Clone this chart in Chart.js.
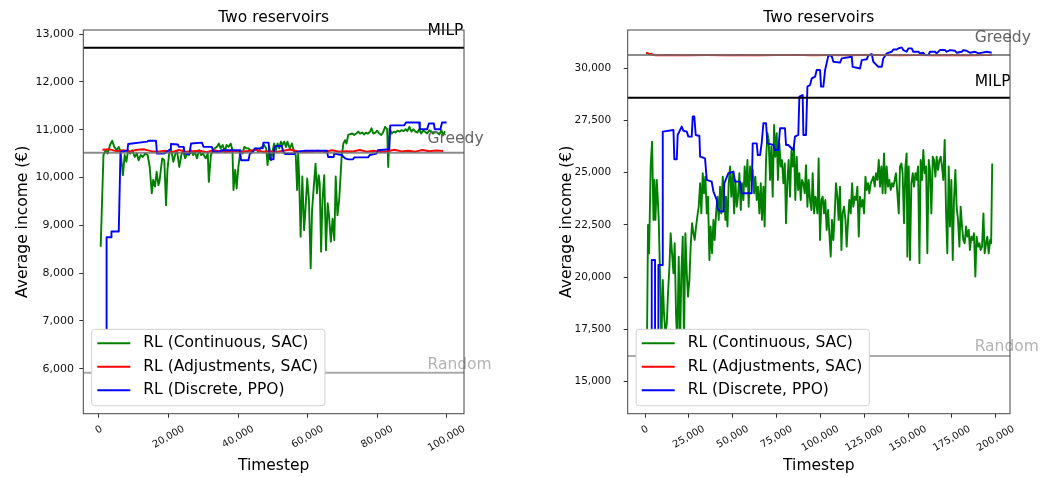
<!DOCTYPE html>
<html>
<head>
<meta charset="utf-8">
<script src="https://cdn.jsdelivr.net/npm/chart.js@4.4.1/dist/chart.umd.min.js"></script>
<style>
  html, body { margin: 0; padding: 0; background: #fff; overflow: hidden; }
  .panel { position: absolute; top: 0; height: 477px; }
  #left { left: 0; width: 530px; }
  #right { left: 544px; width: 515px; }
</style>
</head>
<body>
<div class="panel" id="left"><canvas id="chartLeft"></canvas></div>
<div class="panel" id="right"><canvas id="chartRight"></canvas></div>
<script>
// ---- left panel : 100k timesteps ----
const leftXRange = [-4500, 105000];
const leftYRange = [5060, 13085];
const leftXTicks = [0, 20000, 40000, 60000, 80000, 100000];
const leftYTicks = [6000, 7000, 8000, 9000, 10000, 11000, 12000, 13000];

const leftGreenX = [500,1300,1950,2500,3200,3800,4400,5100,5700,6200,6900,7400,7900,8400,9000,9600,10300,10900,11400,12000,
  12600,13300,14000,14600,15200,15600,16100,16600,17100,17400,17800,18200,18800,19300,19700,20200,20800,21400,22000,22500,
  23100,23700,24200,24800,25400,25900,26500,27100,27600,28200,28800,29400,29900,30700,31300,31600,32200,32800,33300,33900,
  34500,35000,35600,36200,36700,37300,37900,38400,38700,39200,39600,40100,40700,41300,41800,42400,43000,43500,44100,44700,
  45200,45800,46400,46900,47500,48100,48500,49000,49500,50000,50400,50900,51400,51900,52300,52800,53300,53800,54200,54900,
  55500,56000,56600,57000,57300,57600,58000,58500,59000,59400,59900,60400,60900,61300,61800,62300,62700,63200,63500,63900,
  64300,64800,65300,65800,66200,66700,67200,67700,68100,68600,69100,69400,69800,70300,70800,71200,71700,72300,72900,73400,
  74000,74600,75100,75700,76300,76800,77400,78000,78400,78900,79500,80000,80600,81200,81700,82300,82900,83200,83600,84200,
  84800,85300,85900,86500,87000,87600,88200,88700,89300,89900,90400,91000,91600,92100,92700,93300,93900,94400,95000,95600,
  96100,96700,97300,97900,98500,99000,99500];
const leftGreenY = [8550,10470,10570,10500,10680,10770,10640,10570,10640,10540,10050,10470,10330,10570,10500,10570,10430,10500,10360,10470,
  10430,10500,10470,10220,9670,9950,9810,10120,9840,9910,10160,10400,10360,9420,10160,10500,10570,10330,10500,10540,
  10220,10470,10570,10400,10500,10470,10570,10470,10540,10400,10570,10470,10500,10400,10500,9910,10470,10570,10610,10640,
  10710,10610,10680,10540,10680,10640,10710,10570,9740,10160,9770,10220,10570,10500,10640,10610,10610,10570,10540,10570,
  10610,10540,10610,10640,10680,10610,10260,10640,10360,10570,10710,10570,10710,10610,10750,10680,10750,10640,10750,10610,
  10710,10570,10470,9740,10500,9950,8760,10020,8900,9320,9980,9530,8100,9320,9810,10290,9670,10050,9880,8450,
  9530,10050,8480,9460,9180,8660,9140,8690,10020,9210,9530,9910,10430,10710,10780,10710,10890,10910,10920,10890,
  10920,10960,10920,10940,10900,10940,10920,10960,11030,10920,10940,10980,10920,10890,10940,11060,11010,10220,11030,10920,
  10960,10940,10980,10960,10990,10970,11010,10970,11060,10960,11010,10960,10940,11010,10920,10980,10950,10920,10990,10960,
  10920,10950,10940,10900,10990,10880,10970];

const leftRedX = [1000,3000,5000,7000,9000,11000,13000,15000,17000,19000,21000,23000,25000,27000,29000,31000,33000,35000,37000,39000,
  41000,43000,45000,47000,49000,51000,53000,55000,57000,59000,61000,63000,65000,67000,69000,71000,73000,75000,77000,79000,
  81000,83000,85000,87000,89000,91000,93000,95000,97000,99000];
const leftRedY = [10580,10590,10550,10570,10545,10580,10590,10550,10540,10560,10530,10575,10540,10550,10560,10530,10570,10545,10535,10560,
  10540,10555,10580,10540,10550,10535,10560,10585,10550,10540,10545,10560,10535,10570,10540,10550,10545,10575,10540,10560,
  10535,10550,10580,10545,10560,10540,10575,10550,10565,10555];

const leftBlueX = [2200,2200,3600,3600,5700,6200,8200,8400,13900,14200,16400,16700,18800,20500,20700,22700,23000,24400,24600,26000,
  26500,29600,30100,32500,32900,34800,35200,40500,40900,43000,43400,44300,44800,47100,47300,48800,49200,50200,50400,50900,
  52600,53000,53600,56100,56400,57100,59400,65600,65900,67500,67700,69800,70800,71700,73100,73400,77400,77900,79800,80200,
  83500,83800,87800,88300,92100,92300,94400,94900,96300,96600,98200,98700,100000];
const leftBlueY = [5600,8750,8750,8870,8870,10540,10560,10700,10750,10770,10770,10500,10500,10590,10700,10690,10640,10640,10500,10490,
  10710,10730,10640,10640,10540,10540,10570,10570,10360,10360,10500,10540,10610,10610,10730,10730,10380,10380,10610,10660,
  10660,10540,10490,10490,10520,10540,10560,10560,10430,10430,10500,10470,10400,10380,10380,10420,10420,10470,10500,10570,
  10590,11090,11090,11150,11150,11010,11010,11130,11130,11010,11010,11150,11150];

const leftRefValues = [12713, 10519, 5916];   // MILP, Greedy, Random
const leftLabelX = 94500;

// ---- right panel : 200k timesteps ----
const rightXRange = [-9900, 208150];
const rightYRange = [13470, 31820];
const rightXTicks = [0, 25000, 50000, 75000, 100000, 125000, 150000, 175000, 200000];
const rightYTicks = [15000, 17500, 20000, 22500, 25000, 27500, 30000];

const rightGreenX = [1100,1700,2300,3200,4000,4800,5300,5900,6700,7200,7800,8600,9300,10100,10800,11600,12400,13100,13900,14600,
  15400,16200,16900,17700,18400,19200,20000,20700,21500,22200,23000,23800,24500,25300,26000,26800,27600,28300,29100,29800,
  30600,31400,32100,32900,33600,34400,35200,35900,36700,37400,38200,39000,39700,40500,41300,42000,42800,43500,44300,45100,
  45800,46200,47000,47700,48500,49200,50000,50800,51500,52300,53000,53800,54600,55300,56100,56800,57600,58400,59100,59900,
  60600,61400,62200,62900,63700,64400,65200,66000,66700,67500,68200,69000,69800,70500,71300,72000,72800,73600,74300,75100,
  75800,76600,77400,78100,78900,79700,80400,81200,81900,82700,83500,84200,85000,85700,86500,87300,88000,88800,89500,90300,
  91100,91800,92600,93300,94100,94900,95600,96400,97100,97500,98300,99000,99800,100600,101300,102100,102800,103600,104400,105100,
  105900,106600,107400,108200,108900,109700,110400,111200,112000,112700,113500,114300,115000,115800,116500,117300,118100,118800,119600,120300,
  121100,121900,122600,123400,124100,124900,125700,126400,127200,127900,128700,129500,130200,131000,131700,132500,133300,134000,134800,135500,
  136300,137100,137800,138600,139300,140100,140900,141600,142400,143100,143900,144700,145400,146200,146900,147700,148500,149200,149600,150400,
  151100,151900,152700,153400,154200,154900,155700,156500,157200,158000,158700,159500,160300,161000,161800,162500,163300,164100,164800,165600,
  166300,167100,167900,168600,169400,170100,170900,171700,172400,173200,173900,174700,175500,176200,177000,177700,178500,179300,180000,180800,
  181500,182300,183100,183800,184600,185300,186100,186900,187600,188400,189100,189900,190700,191400,192200,193000,193700,194500,195200,196000,
  196800,197400,198000];
const rightGreenY = [16800,22500,21140,25290,26480,22740,24650,22740,24650,23850,22740,19870,16800,19870,18280,17320,17800,19230,20510,22100,
  21140,20190,21620,18120,16800,20980,16800,20190,21940,16800,22100,20190,19070,19870,21460,22580,22100,21780,22420,22900,
  23370,24490,23050,24970,24010,24810,23050,23850,20820,22420,21140,22740,21780,23050,23850,22740,24330,23050,24810,24010,
  22740,23850,22420,24490,25290,23850,24970,23050,24650,23370,23850,24970,23210,24490,23690,25290,24330,25600,23370,25290,
  24650,25130,24010,24810,23690,24330,23050,24490,22740,24330,22420,25600,26880,26560,24650,26240,23850,27280,25760,26880,
  24650,26400,25290,25600,24490,25440,22580,24650,25600,23850,26080,25290,26240,23690,25760,24170,24970,23690,24650,24490,
  24010,25360,23370,24650,23690,23210,24970,23050,23850,23690,23050,25680,21780,23690,23850,23050,23690,22260,23210,22100,
  20980,22740,21780,23050,24490,23850,22740,24330,21300,23050,23370,22740,21460,22740,23690,23050,24490,23370,23850,23690,
  24330,21940,23850,23370,23690,23050,24810,24170,24490,24010,24490,24650,24810,24330,24970,24650,25600,24330,25290,24010,
  25920,24010,25290,24330,24650,24170,24490,24330,24650,24970,24010,23050,25290,25440,24970,22580,25290,25920,20980,25290,
  20820,24490,24970,24330,24970,24650,25290,20670,25600,24650,26080,24970,25290,21140,25600,25130,23050,25760,25600,24810,
  25760,25130,25600,25760,25290,24650,26560,23050,21140,25290,22420,24650,20820,23690,25130,23370,22740,21460,23370,22420,
  21780,21620,22420,21940,22260,21300,21940,21780,22100,20030,21940,21460,21620,21300,21460,23050,21140,21620,21940,21140,
  21780,21620,25440];

const rightRedX = [500,1500,2500,3500,4500,6000,15000,25000,35000,45000,55000,65000,75000,85000,95000,105000,115000,125000,135000,145000,
  155000,165000,175000,185000,195000,198000];
const rightRedY = [30700,30720,30660,30690,30630,30610,30625,30615,30620,30610,30625,30615,30620,30630,30615,30620,30610,30625,30620,30615,
  30620,30610,30625,30615,30620,30620];

const rightBlueX = [3800,3800,5700,5700,7600,7600,10100,10100,16200,16700,18100,18600,20900,21900,23800,24700,26600,27200,28100,28900,
  31000,31400,34200,35200,38000,39000,40900,41300,42800,44700,45200,47500,50400,51300,54200,55100,60800,61400,63700,64300,
  65600,66500,67500,69000,69800,73200,74100,76000,77000,79800,80400,81700,84600,85500,87400,88000,89900,90300,91800,92600,
  94100,95100,97000,97900,99800,100400,101700,102700,104600,106500,107400,111200,112200,117900,118400,122600,123600,126400,127400,129300,
  130200,133100,135000,135900,137800,140700,141600,143500,144500,146400,147300,149200,150200,152100,153000,155900,156800,158700,159700,161600,
  162500,165400,166300,168200,171100,172000,173900,176800,177700,180600,181500,183400,185300,188200,190100,193000,194900,197700];
const rightBlueY = [15500,20820,20820,15500,15500,20580,20580,26960,27040,25640,25640,26800,27200,27000,26960,26720,26720,27680,27680,26800,
  26750,25760,25680,24650,24570,24090,23690,23290,23140,23140,24490,24970,25050,24570,24570,24010,24010,26400,26400,25840,
  25840,26400,27360,27360,26400,26320,26080,26080,27120,27120,26320,26320,26080,26720,26800,28630,28710,26800,26800,29110,
  29190,29510,29590,29910,29910,29110,29110,29910,30620,30570,30300,30260,30460,30540,30060,29980,30380,30420,30620,30670,
  30300,30060,30060,30460,30700,30780,30890,30890,30940,30990,30860,30780,30940,30940,30780,30780,30700,30730,30620,30620,
  30780,30780,30700,30860,30860,30780,30860,30830,30730,30780,30860,30830,30730,30780,30700,30750,30780,30730];

const rightRefValues = [28580, 30621, 16229];  // MILP, Greedy, Random
const rightLabelX = 188000;

const seriesNames = ['RL (Continuous, SAC)', 'RL (Adjustments, SAC)', 'RL (Discrete, PPO)'];
const refNames = ['MILP', 'Greedy', 'Random'];

// ---- styling ----
const FAMILY = "'DejaVu Sans', sans-serif";
const seriesColors = ['#008000', '#ff0000', '#0000ff'];
const refLineColors = ['#000000', 'rgba(110,110,110,0.8)', '#aaaaaa'];
const refTextColors = ['#000000', '#666666', '#b3b3b3'];
const fmt = v => v.toLocaleString('en-US');

function toPoints(xs, ys) {
    return xs.map((x, i) => ({ x: x, y: ys[i] }));
}

// MILP / Greedy / Random labels above their lines
const refLabels = {
    id: 'refLabels',
    afterDatasetsDraw(chart, args, opts) {
        const ctx = chart.ctx, sx = chart.scales.x, sy = chart.scales.y;
        ctx.save();
        ctx.font = '15.5px ' + FAMILY;
        ctx.textAlign = 'left';
        ctx.textBaseline = 'middle';
        opts.values.forEach((v, i) => {
            ctx.fillStyle = refTextColors[i];
            ctx.fillText(refNames[i], sx.getPixelForValue(opts.x), sy.getPixelForValue(v * 1.027));
        });
        // frame around the plot
        const a = chart.chartArea;
        ctx.strokeStyle = '#444';
        ctx.lineWidth = 1;
        ctx.strokeRect(a.left, a.top, a.right - a.left, a.bottom - a.top);
        ctx.restore();
    }
};

// rotated x tick labels, centred on their tick
const xTickLabels = {
    id: 'xTickLabels',
    afterDraw(chart) {
        const ctx = chart.ctx, sx = chart.scales.x, a = chart.chartArea;
        const size = 10, h = size * 1.17, ang = Math.PI / 6;
        ctx.save();
        ctx.font = size + 'px ' + FAMILY;
        ctx.fillStyle = '#111';
        ctx.textAlign = 'center';
        ctx.textBaseline = 'middle';
        sx.ticks.forEach(t => {
            const txt = fmt(t.value);
            const w = ctx.measureText(txt).width;
            const cy = a.bottom + 9.5 + (w * Math.sin(ang) + h * Math.cos(ang)) / 2;
            ctx.save();
            ctx.translate(sx.getPixelForValue(t.value), cy);
            ctx.rotate(-ang);
            ctx.fillText(txt, 0, 0);
            ctx.restore();
        });
        ctx.restore();
    }
};

// matplotlib-like legend box in the lower left corner
const boxLegend = {
    id: 'boxLegend',
    afterDraw(chart) {
        const ctx = chart.ctx, a = chart.chartArea;
        const items = chart.data.datasets.filter(d => !d.isRef);
        ctx.save();
        ctx.font = '15.5px ' + FAMILY;
        const textW = Math.max(...items.map(d => ctx.measureText(d.label).width));
        const left = a.left + 8.4, top = a.bottom - 84.4;
        const w = 60 - 8.4 + textW + 7, hgt = 76.4;
        ctx.beginPath();
        ctx.roundRect(left, top, w, hgt, 3);
        ctx.fillStyle = '#fff';
        ctx.fill();
        ctx.strokeStyle = '#d0d0d0';
        ctx.lineWidth = 1;
        ctx.stroke();
        items.forEach((d, i) => {
            const y = a.bottom - 70.4 + i * 23.5;
            ctx.beginPath();
            ctx.moveTo(a.left + 14, y);
            ctx.lineTo(a.left + 47, y);
            ctx.strokeStyle = d.borderColor;
            ctx.lineWidth = 1.9;
            ctx.stroke();
            ctx.fillStyle = '#000';
            ctx.textAlign = 'left';
            ctx.textBaseline = 'middle';
            ctx.fillText(d.label, a.left + 60, y);
        });
        ctx.restore();
    }
};

function buildChart(id, p) {
    const series = [
        { label: seriesNames[0], data: toPoints(p.greenX, p.greenY), borderColor: seriesColors[0], order: 10 },
        { label: seriesNames[1], data: toPoints(p.redX, p.redY), borderColor: seriesColors[1], order: 9 },
        { label: seriesNames[2], data: toPoints(p.blueX, p.blueY), borderColor: seriesColors[2], order: 8 }
    ];
    const refs = p.refs.map((v, i) => ({
        label: refNames[i],
        isRef: true,
        data: [{ x: p.xRange[0], y: v }, { x: p.xRange[1], y: v }],
        borderColor: refLineColors[i],
        order: [1, 2, 3][i]
    }));
    const datasets = series.concat(refs).map(d => Object.assign({
        borderWidth: 1.9, pointRadius: 0, tension: 0, fill: false, borderJoinStyle: 'round'
    }, d));

    return new Chart(document.getElementById(id), {
        type: 'line',
        data: { datasets: datasets },
        plugins: [refLabels, xTickLabels, boxLegend],
        options: {
            responsive: true,
            maintainAspectRatio: false,
            animation: false,
            devicePixelRatio: 1,
            layout: { padding: { left: 0, right: p.padRight, top: 0, bottom: 0 } },
            plugins: {
                legend: { display: false },
                tooltip: { enabled: false },
                title: {
                    display: true, fullSize: false, text: 'Two reservoirs', color: '#000',
                    font: { family: FAMILY, size: 15.5, weight: 'normal' },
                    padding: { top: 8.2, bottom: 3.2 }
                },
                refLabels: { values: p.refs, x: p.labelX }
            },
            scales: {
                x: {
                    type: 'linear', min: p.xRange[0], max: p.xRange[1],
                    afterBuildTicks: s => { s.ticks = p.xTicks.map(v => ({ value: v })); },
                    afterFit: s => { s.height = 63.3; },
                    ticks: { display: false },
                    grid: { drawOnChartArea: false, drawTicks: true, tickLength: 4, color: '#333' },
                    border: { display: false },
                    title: {
                        display: true, text: 'Timestep', color: '#000',
                        font: { family: FAMILY, size: 15.5 }, padding: { top: 0, bottom: 1.7 }
                    }
                },
                y: {
                    type: 'linear', min: p.yRange[0], max: p.yRange[1],
                    afterBuildTicks: s => { s.ticks = p.yTicks.map(v => ({ value: v })); },
                    afterFit: s => { s.width = p.yWidth; },
                    ticks: {
                        color: '#111', font: { family: FAMILY, size: p.yTickSize },
                        padding: p.yTickPad, callback: v => fmt(v)
                    },
                    grid: { drawOnChartArea: false, drawTicks: true, tickLength: 4, color: '#333' },
                    border: { display: false },
                    title: {
                        display: true, text: 'Average income (€)', color: '#000',
                        font: { family: FAMILY, size: 15.5 }, padding: { top: 14.1, bottom: 0 }
                    }
                }
            }
        }
    });
}

buildChart('chartLeft', {
    greenX: leftGreenX, greenY: leftGreenY, redX: leftRedX, redY: leftRedY,
    blueX: leftBlueX, blueY: leftBlueY, refs: leftRefValues, labelX: leftLabelX,
    xRange: leftXRange, yRange: leftYRange, xTicks: leftXTicks, yTicks: leftYTicks,
    padRight: 66, yWidth: 83.3, yTickSize: 11, yTickPad: 5.3
});
buildChart('chartRight', {
    greenX: rightGreenX, greenY: rightGreenY, redX: rightRedX, redY: rightRedY,
    blueX: rightBlueX, blueY: rightBlueY, refs: rightRefValues, labelX: rightLabelX,
    xRange: rightXRange, yRange: rightYRange, xTicks: rightXTicks, yTicks: rightYTicks,
    padRight: 49, yWidth: 83.7, yTickSize: 10.5, yTickPad: 12.5
});
</script>
</body>
</html>
